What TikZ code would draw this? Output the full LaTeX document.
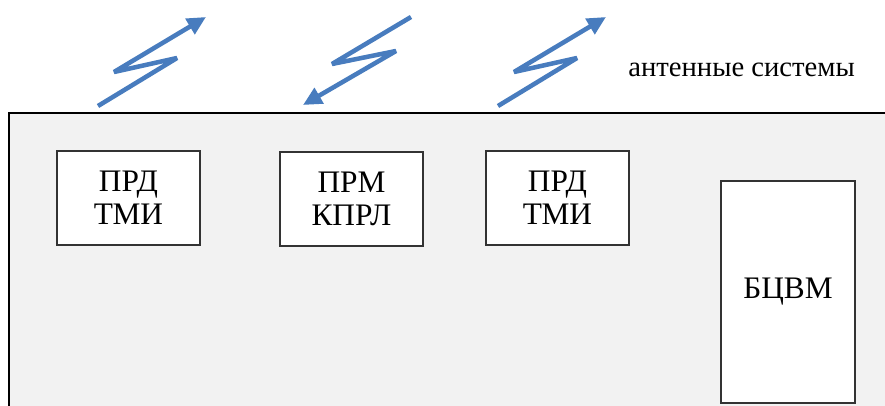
\documentclass[tikz,border=0pt]{standalone}
\usepackage{fontspec}
\setmainfont{Liberation Serif}
\usepackage{tikz}
\usetikzlibrary{arrows.meta}

\definecolor{panel}{RGB}{242,242,242}
\definecolor{wave}{RGB}{72,124,190}

\tikzset{
  unit/.style={draw=black!80, fill=white, line width=0.8pt, align=center,
    font=\fontsize{23.5}{24.5}\selectfont, inner sep=0pt},
  link/.style={wave, line width=3.4pt, line join=bevel,
    -{Triangle[length=14pt,width=13pt]}}
}

\begin{document}
\begin{tikzpicture}[x=0.75pt,y=-0.75pt]
	\useasboundingbox (0,0) rectangle (885,406);
	% board
	\draw[fill=panel,line width=1pt] (9,113) rectangle (892,412);
	% blocks
	\node[unit, minimum width=143*0.75pt, minimum height=94*0.75pt] (prd1) at (128.5,198) {ПРД\\ТМИ};
	\node[unit, minimum width=143*0.75pt, minimum height=94*0.75pt] (prm) at (351.5,199) {ПРМ\\КПРЛ};
	\node[unit, minimum width=143*0.75pt, minimum height=94*0.75pt] (prd2) at (557.5,198) {ПРД\\ТМИ};
	\node[unit, minimum width=134*0.75pt, minimum height=222*0.75pt] (bcvm) at (788,292) {БЦВМ};
	% antennas
	\draw[link] (98,106) -- (177,58) -- (114,72) -- (206,17);
	\draw[link] (411,17) -- (332,64) -- (396,51) -- (303,105);
	\draw[link] (498,106) -- (577,58) -- (514,72) -- (606,17);
	\node[anchor=base west, inner sep=0pt, font=\fontsize{21.5}{23}\selectfont] (ant) at (628,77) {антенные системы};
\end{tikzpicture}
\end{document}
